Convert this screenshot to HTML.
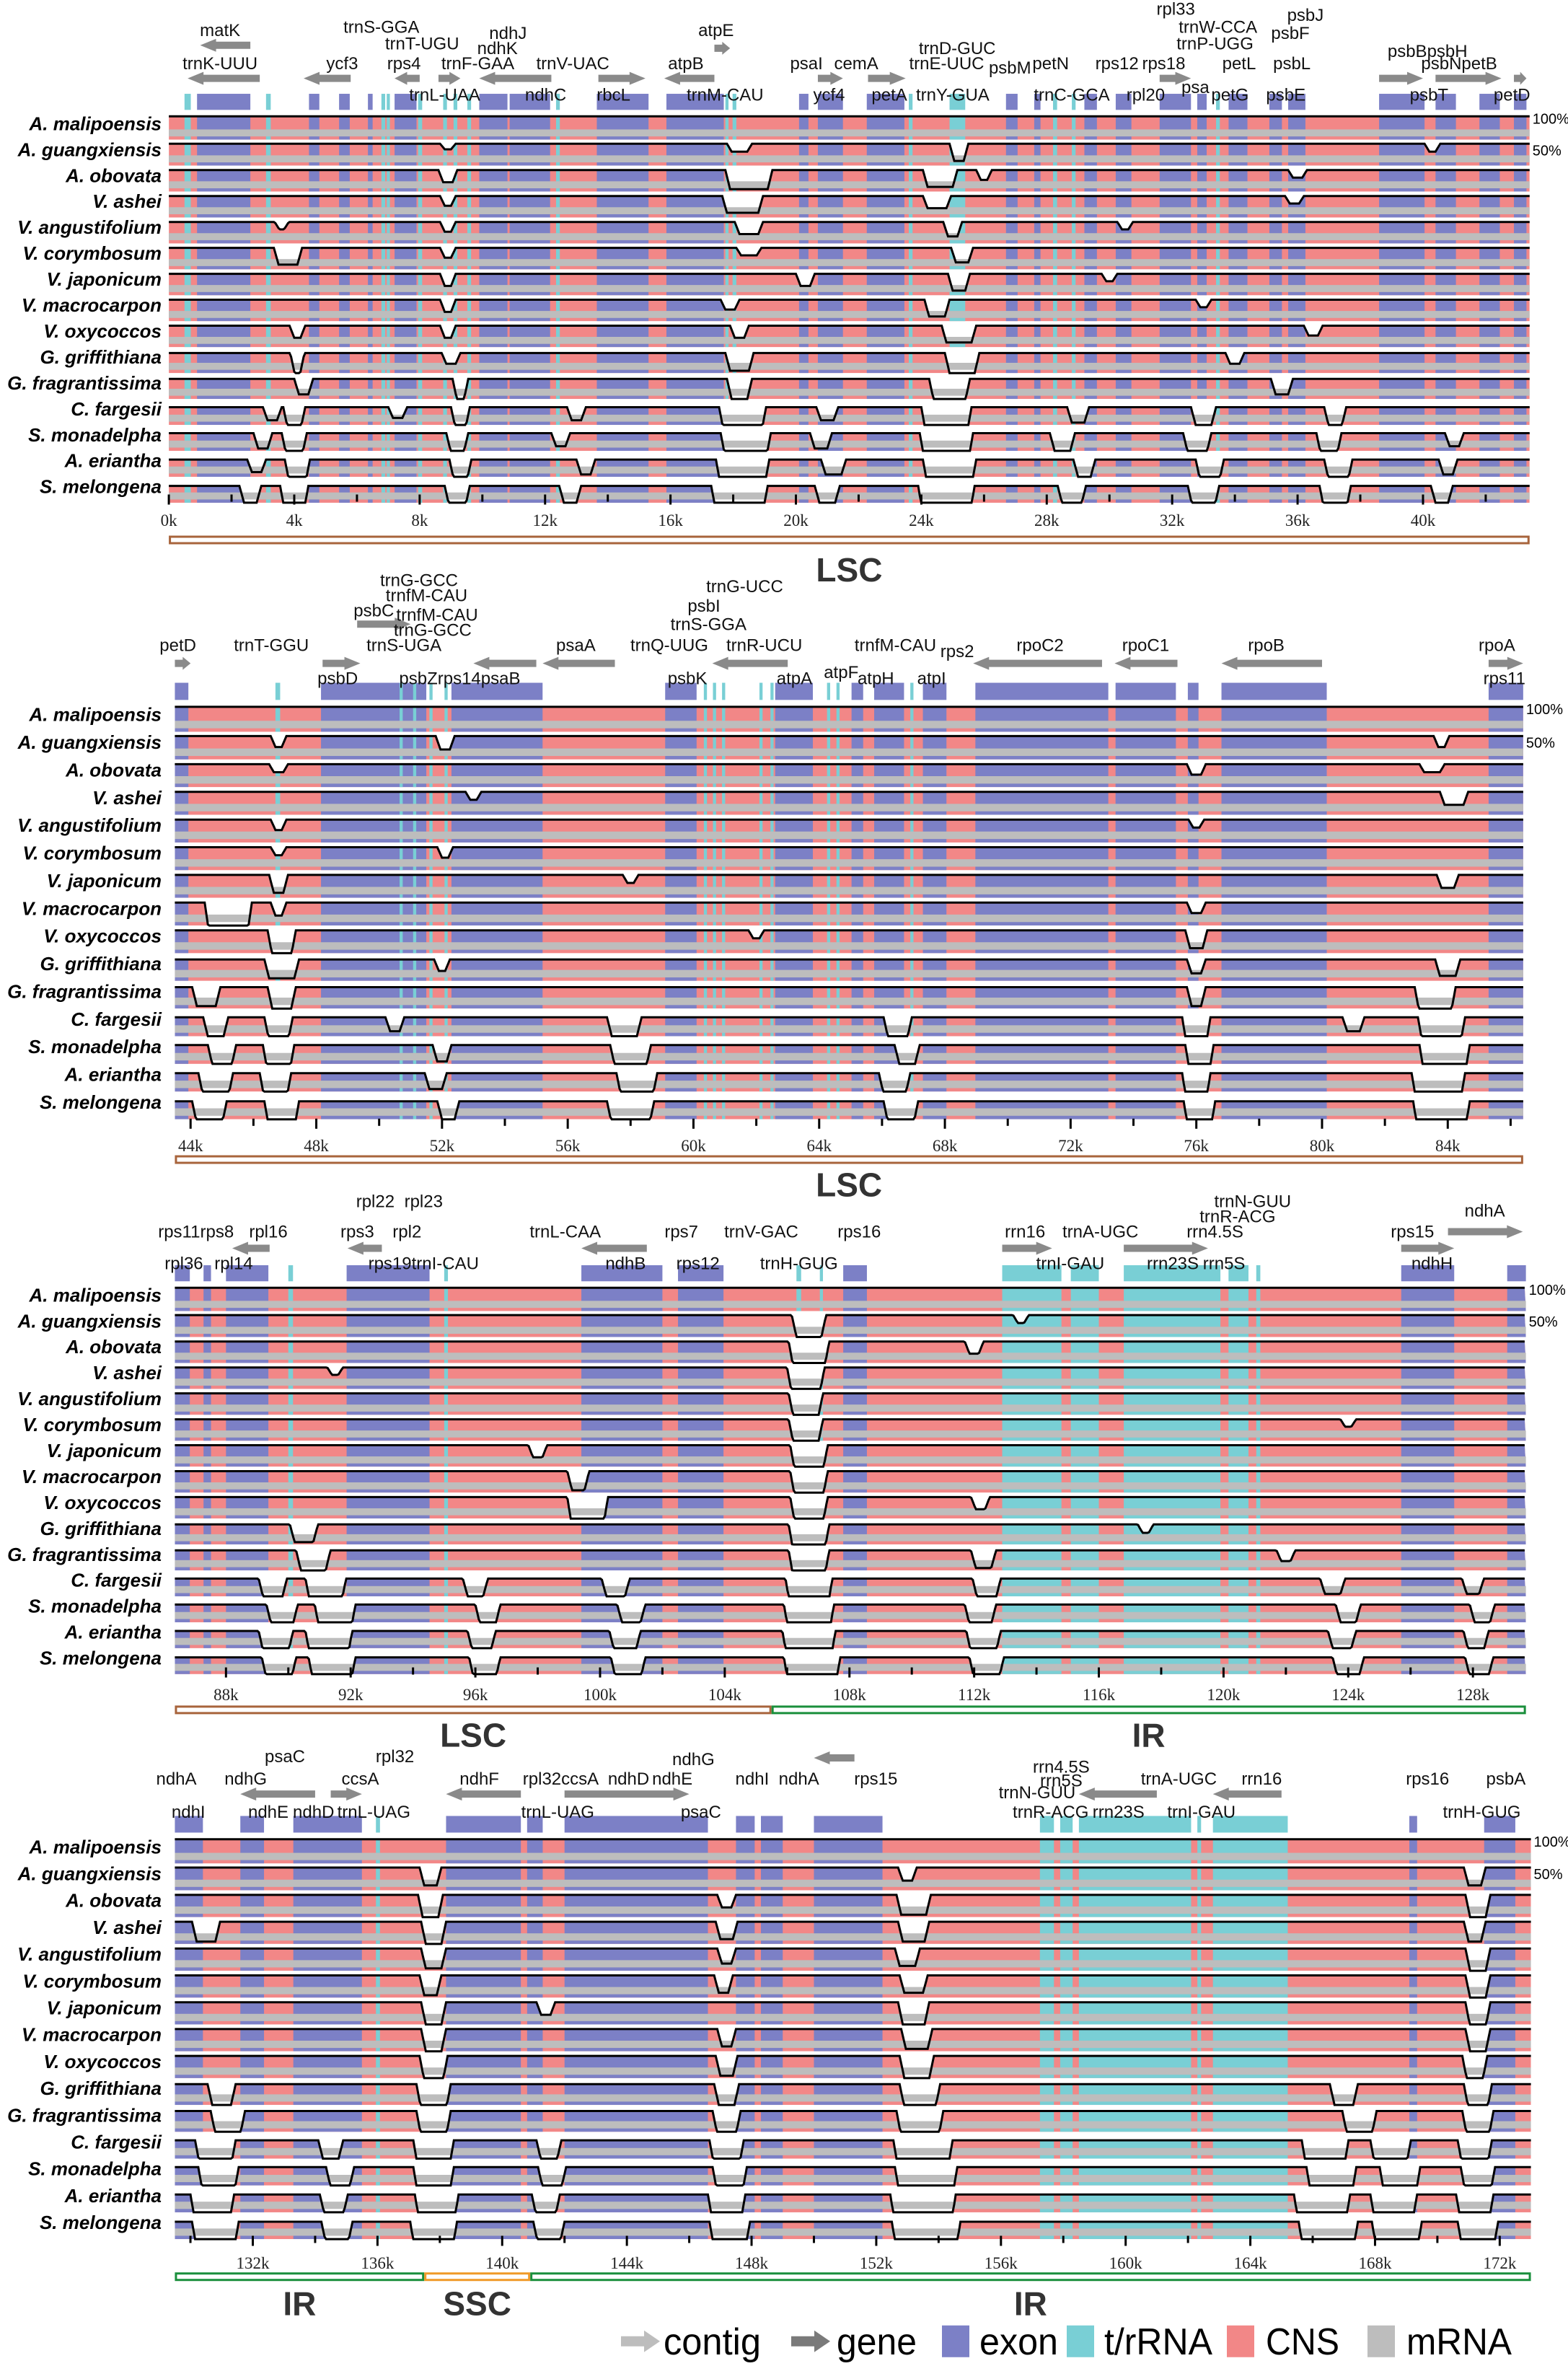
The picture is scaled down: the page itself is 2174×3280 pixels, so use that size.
<!DOCTYPE html>
<html><head><meta charset="utf-8">
<style>
html,body{margin:0;padding:0;background:#fff;}
svg{display:block;}
text{font-family:"Liberation Sans",sans-serif;}
</style></head>
<body>
<svg id="chart" xmlns="http://www.w3.org/2000/svg" width="2174" height="3280" viewBox="0 0 2174 3280"></svg>
<script>
const S = 2.09;
const species = ["A. malipoensis","A. guangxiensis","A. obovata","V. ashei","V. angustifolium","V. corymbosum","V. japonicum","V. macrocarpon","V. oxycoccos","G. griffithiana","G. fragrantissima","C. fargesii","S. monadelpha","A. eriantha","S. melongena"];
const baseIdentity = [1.0,0.97,0.96,0.96,0.96,0.96,0.96,0.96,0.96,0.93,0.93,0.88,0.88,0.87,0.86];
const panelStartK = [0,43.5,86.36,129.5];
const panelEndK = [43.4,86.4,129.7,173.0];
const colors = {exon:"#7c80c6",rna:"#79cfd5",cns:"#f28787",mrna:"#bdbdbd"};

const seg1 = [[0.5,0.7,"rna"],[0.9,2.6,"exon"],[3.1,3.25,"rna"],[4.47,4.8,"exon"],[5.43,5.77,"exon"],[6.35,6.5,"exon"],[6.78,6.9,"rna"],[6.95,7.05,"rna"],[7.2,7.9,"exon"],[7.95,8.08,"rna"],[8.75,8.87,"rna"],[9.08,9.2,"rna"],[9.52,9.64,"rna"],[9.9,10.8,"exon"],[10.87,12.16,"exon"],[12.35,12.47,"rna"],[13.65,15.3,"exon"],[15.87,17.7,"exon"],[17.75,17.85,"rna"],[17.98,18.1,"rna"],[20.1,20.4,"exon"],[20.7,21.5,"exon"],[22.26,23.46,"exon"],[23.6,23.72,"rna"],[24.9,25.4,"rna"],[26.7,27.07,"exon"],[27.6,27.8,"exon"],[28.2,28.33,"rna"],[28.8,28.92,"rna"],[29.2,29.6,"exon"],[30.2,30.7,"exon"],[31.6,32.6,"exon"],[32.8,33.1,"exon"],[33.4,33.52,"rna"],[33.8,34.4,"exon"],[35.1,35.5,"exon"],[35.7,36.25,"exon"],[38.6,40.05,"exon"],[40.4,41.05,"exon"],[41.8,42.45,"exon"],[42.9,43.3,"exon"]];
const seg2 = [[43.5,43.93,"exon"],[46.7,46.85,"rna"],[48.15,51.5,"exon"],[50.65,50.75,"rna"],[51.08,51.18,"rna"],[51.6,51.7,"rna"],[52.08,52.18,"rna"],[52.3,55.2,"exon"],[59.1,60.1,"exon"],[60.33,60.43,"rna"],[60.62,60.72,"rna"],[60.91,61.01,"rna"],[62.1,62.2,"rna"],[62.45,62.55,"rna"],[62.6,63.8,"exon"],[64.25,64.35,"rna"],[64.55,64.65,"rna"],[65.03,65.4,"exon"],[65.75,66.7,"exon"],[66.9,67.0,"rna"],[67.3,68.05,"exon"],[68.97,73.2,"exon"],[73.43,75.35,"exon"],[75.73,76.07,"exon"],[76.8,80.15,"exon"],[85.3,86.4,"exon"]];
const seg3 = [[86.36,86.84,"exon"],[87.28,87.52,"exon"],[88.0,89.36,"exon"],[90.0,90.15,"rna"],[91.87,94.53,"exon"],[95.0,95.12,"rna"],[99.4,102.0,"exon"],[102.5,103.96,"exon"],[106.3,106.45,"rna"],[107.05,107.15,"rna"],[107.8,108.56,"exon"],[112.9,114.8,"rna"],[115.1,116.0,"rna"],[116.8,119.9,"rna"],[120.16,120.8,"rna"],[121.05,121.18,"rna"],[125.7,127.4,"exon"],[129.1,129.7,"exon"]];
const seg4 = [[129.5,130.4,"exon"],[131.6,132.36,"exon"],[133.3,135.5,"exon"],[135.95,136.08,"rna"],[138.2,140.6,"exon"],[140.8,141.3,"exon"],[142.0,146.6,"exon"],[147.5,148.1,"exon"],[148.3,149.0,"exon"],[150.0,152.2,"exon"],[157.25,157.7,"rna"],[157.9,158.3,"rna"],[158.5,162.1,"rna"],[162.3,162.42,"rna"],[162.8,165.2,"rna"],[169.1,169.35,"exon"],[171.5,172.5,"exon"]];

const dips1 = [[],
[[8.9,0.2,0.85],[18.2,0.5,0.8],[25.2,0.3,0.6],[40.3,0.2,0.8]],
[[8.9,0.3,0.7],[18.5,1.2,0.55],[24.6,0.8,0.6],[26,0.2,0.75],[36,0.3,0.8]],
[[8.9,0.2,0.75],[18.3,1.0,0.6],[24.5,0.6,0.7],[35.9,0.3,0.8]],
[[3.6,0.15,0.8],[8.9,0.2,0.75],[18.5,0.6,0.7],[25.0,0.3,0.65],[30.5,0.2,0.8]],
[[3.8,0.6,0.6],[8.9,0.2,0.75],[18.5,0.5,0.8],[25.3,0.4,0.65]],
[[8.9,0.2,0.7],[20.3,0.3,0.7],[25.2,0.4,0.6],[30,0.2,0.8]],
[[8.9,0.2,0.7],[17.9,0.3,0.75],[24.5,0.5,0.6],[33,0.2,0.8]],
[[4.1,0.2,0.7],[8.9,0.2,0.7],[18.2,0.3,0.7],[25.2,0.8,0.6],[36.5,0.3,0.75]],
[[4.1,0.15,0.45],[9.0,0.3,0.7],[18.2,0.6,0.55],[25.3,0.8,0.5],[34,0.3,0.7]],
[[4.3,0.3,0.6],[9.3,0.2,0.45],[18.2,0.5,0.5],[24.9,1.0,0.45],[35.5,0.4,0.6]],
[[3.3,0.3,0.6],[4.0,0.4,0.4],[7.3,0.3,0.65],[9.3,0.3,0.4],[13,0.3,0.6],[18.3,1.2,0.35],[21,0.4,0.6],[24.8,1.3,0.3],[29,0.4,0.55],[33,0.5,0.5],[37.2,0.4,0.45]],
[[3.0,0.3,0.55],[4.0,0.5,0.4],[9.2,0.4,0.45],[12.5,0.3,0.6],[18.4,1.3,0.35],[20.8,0.4,0.55],[24.8,1.4,0.3],[28.5,0.5,0.5],[32.8,0.6,0.45],[37.0,0.5,0.4],[41,0.3,0.6]],
[[2.8,0.3,0.6],[4.1,0.5,0.35],[9.3,0.4,0.4],[13.3,0.3,0.55],[18.3,1.4,0.3],[21.2,0.5,0.55],[24.9,1.4,0.3],[29.2,0.4,0.5],[33.2,0.6,0.4],[37.3,0.6,0.4],[40.8,0.3,0.55]],
[[2.6,0.4,0.5],[4.0,0.6,0.3],[9.2,0.5,0.4],[12.8,0.4,0.5],[18.2,1.5,0.3],[21.0,0.5,0.5],[24.8,1.5,0.25],[28.8,0.6,0.45],[33.0,0.7,0.4],[37.2,0.7,0.35],[40.6,0.4,0.5]]];
const dips2 = [[],
[[46.8,0.2,0.75],[52.1,0.3,0.7],[83.8,0.2,0.75]],
[[46.8,0.3,0.8],[76.0,0.3,0.75],[83.5,0.5,0.8]],
[[53,0.2,0.8],[84.2,0.6,0.7]],
[[46.8,0.2,0.75],[76,0.2,0.8]],
[[46.8,0.2,0.8],[52.1,0.2,0.75]],
[[46.8,0.3,0.6],[58,0.2,0.8],[84,0.4,0.7]],
[[45.2,1.2,0.3],[46.8,0.2,0.7],[76,0.3,0.75]],
[[46.9,0.6,0.45],[62,0.2,0.8],[76,0.4,0.6]],
[[46.9,0.8,0.55],[52,0.2,0.7],[76,0.3,0.65],[84,0.5,0.6]],
[[44.5,0.6,0.55],[46.9,0.6,0.5],[76,0.3,0.55],[83.6,1.0,0.4]],
[[44.8,0.5,0.5],[46.8,0.6,0.4],[50.5,0.3,0.6],[57.8,0.8,0.5],[66.5,0.6,0.45],[76.0,0.6,0.3],[81,0.4,0.6],[83.8,1.2,0.35]],
[[45.0,0.6,0.45],[46.8,0.7,0.35],[52,0.3,0.55],[58,1.0,0.45],[66.8,0.5,0.5],[76.1,0.6,0.3],[83.9,1.3,0.3]],
[[44.8,0.8,0.4],[46.7,0.7,0.35],[51.8,0.4,0.55],[58.2,1.0,0.4],[66.4,0.7,0.45],[76.0,0.6,0.25],[83.7,1.4,0.3]],
[[44.6,0.8,0.4],[46.9,0.8,0.3],[52.2,0.4,0.5],[58.0,1.2,0.4],[66.6,0.8,0.4],[76.1,0.7,0.25],[83.8,1.5,0.25]]];
const dips3 = [[],
[[106.7,0.8,0.5],[113.5,0.2,0.8]],
[[106.7,1.0,0.4],[112.0,0.3,0.7]],
[[106.6,0.9,0.4],[91.5,0.2,0.8]],
[[106.6,0.8,0.45]],
[[106.6,0.8,0.45],[124,0.2,0.8]],
[[106.7,0.9,0.4],[98,0.3,0.7]],
[[99.3,0.4,0.55],[106.7,0.9,0.4]],
[[99.6,1.0,0.3],[106.7,0.9,0.4],[112.2,0.3,0.7]],
[[90.5,0.6,0.55],[106.7,1.0,0.35],[117.5,0.2,0.75]],
[[90.8,0.8,0.5],[106.7,1.0,0.35],[112.3,0.5,0.55],[122,0.3,0.7]],
[[89.5,0.6,0.45],[91.2,1.0,0.35],[96,0.5,0.5],[100.5,0.6,0.5],[106.7,1.2,0.25],[112.4,0.6,0.45],[123.5,0.5,0.55],[128,0.4,0.55]],
[[89.8,0.7,0.45],[91.5,1.0,0.3],[96.4,0.5,0.45],[101,0.6,0.5],[106.7,1.3,0.25],[112.2,0.7,0.45],[124,0.5,0.5],[128.3,0.5,0.5]],
[[89.6,0.8,0.4],[91.3,1.2,0.3],[96.2,0.6,0.45],[100.8,0.7,0.45],[106.7,1.4,0.25],[112.3,0.8,0.4],[123.8,0.6,0.5],[128.1,0.5,0.45]],
[[89.7,0.8,0.4],[91.4,1.2,0.3],[96.3,0.7,0.4],[100.9,0.8,0.4],[106.8,1.5,0.2],[112.4,0.8,0.4],[124,0.7,0.45],[128.2,0.6,0.45]]];
const dips4 = [[],
[[137.7,0.4,0.6],[153,0.3,0.7],[171.2,0.4,0.6]],
[[137.7,0.5,0.5],[147.2,0.3,0.7],[153.2,0.8,0.55],[171.3,0.5,0.5]],
[[130.5,0.6,0.55],[137.8,0.5,0.5],[147.2,0.4,0.6],[153.2,0.7,0.55],[171.2,0.4,0.55]],
[[137.8,0.5,0.55],[147.2,0.3,0.65],[153,0.5,0.6],[171.3,0.5,0.5]],
[[137.7,0.4,0.55],[147.1,0.3,0.6],[153.2,0.6,0.6],[171.3,0.5,0.5]],
[[137.8,0.5,0.5],[141.4,0.3,0.7],[153.2,0.7,0.5],[171.3,0.5,0.45]],
[[137.8,0.5,0.5],[147.2,0.3,0.6],[153.3,0.7,0.55],[171.3,0.5,0.5]],
[[137.8,0.6,0.45],[147.2,0.4,0.55],[153.3,0.8,0.5],[171.2,0.5,0.45]],
[[131,0.6,0.5],[137.8,0.8,0.4],[147.2,0.5,0.5],[153.4,1.0,0.45],[167,0.6,0.5],[171.3,0.6,0.4]],
[[131.2,0.8,0.45],[137.8,0.8,0.4],[147.2,0.6,0.45],[153.4,1.2,0.4],[167.5,0.8,0.45],[171.3,0.7,0.4]],
[[130.8,1.0,0.35],[134.5,0.5,0.5],[137.8,1.0,0.3],[141.5,0.5,0.45],[147.2,0.8,0.35],[153.5,1.6,0.3],[166.4,1.2,0.3],[168.5,1.0,0.35],[171.2,0.8,0.35]],
[[130.9,1.0,0.35],[134.8,0.6,0.45],[137.8,1.0,0.3],[141.6,0.6,0.45],[147.3,0.8,0.35],[153.6,1.7,0.3],[166.6,1.3,0.3],[168.8,1.0,0.3],[171.3,0.8,0.35]],
[[130.7,1.1,0.3],[134.6,0.6,0.45],[137.9,1.1,0.25],[141.4,0.6,0.4],[147.2,0.9,0.3],[153.5,1.8,0.25],[166.3,1.5,0.25],[168.6,1.2,0.3],[171.2,0.9,0.3]],
[[130.8,1.2,0.3],[134.7,0.7,0.4],[137.8,1.2,0.25],[141.5,0.7,0.4],[147.3,1.0,0.3],[153.6,1.9,0.25],[166.5,1.6,0.25],[168.7,1.3,0.25],[171.3,1.0,0.3]]];

const arrows1 = [[1.0,2.6,30,-1],[0.6,2.9,52,-1],[4.3,5.8,52,-1],[7.2,8.0,52,-1],[8.6,9.3,52,1],[9.9,12.2,52,-1],[13.7,15.2,52,1],[15.8,17.4,52,-1],[17.4,17.9,32,1],[20.7,21.5,52,1],[22.3,23.5,52,1],[31.6,32.6,52,1],[38.6,40.0,52,1],[40.4,42.5,52,1],[42.9,43.3,52,1]];
const arrows2 = [[43.5,44.0,440,1],[48.2,49.4,440,1],[49.3,51.0,414,1],[53.0,55.0,440,-1],[55.2,57.5,440,-1],[60.6,63.0,440,-1],[68.9,73.0,440,-1],[73.4,75.4,440,-1],[76.8,80.0,440,-1],[85.3,86.4,440,1]];
const arrows3 = [[88.2,89.4,828,-1],[91.9,93.0,828,-1],[99.4,101.5,828,-1],[112.9,114.5,828,1],[116.8,119.5,828,1],[125.7,127.4,828,1],[127.2,129.6,817,1]];
const arrows4 = [[131.6,134.0,1190,-1],[134.5,135.5,1190,1],[138.2,140.6,1190,-1],[142.0,146.0,1190,1],[150.0,151.3,1166,-1],[158.5,161.0,1190,-1],[162.8,165.0,1190,-1]];

const labels1 = [["matK",146,20],["trnK-UUU",146,42],["ycf3",227,42],["trnS-GGA",253,18],["trnT-UGU",280,29],["rps4",268,42],["ndhJ",337,22],["ndhK",330,32],["trnF-GAA",317,42],["trnV-UAC",380,42],["trnL-UAA",295,63],["ndhC",362,63],["rbcL",407,63],["atpB",455,42],["atpE",475,20],["trnM-CAU",481,63],["psaI",535,42],["cemA",568,42],["ycf4",550,63],["petA",590,63],["trnD-GUC",635,32],["trnE-UUC",628,42],["trnY-GUA",632,63],["psbM",670,45],["petN",697,42],["trnC-GCA",711,63],["rps12",741,42],["rps18",772,42],["rpl20",760,63],["rpl33",780,6],["trnW-CCA",808,18],["trnP-UGG",806,29],["petL",822,42],["psa",793,58],["petG",816,63],["psbJ",866,10],["psbF",856,22],["psbL",857,42],["psbE",853,63],["psbBpsbH",947,34],["psbNpetB",968,42],["psbT",948,63],["petD",1003,63]];
const labels2 = [["petD",118,428],["trnT-GGU",180,428],["psbC",248,405],["trnG-GCC",278,385],["trnfM-CAU",283,395],["trnfM-CAU",290,408],["trnG-GCC",287,418],["trnS-UGA",268,428],["psbD",224,450],["psbZrps14psaB",305,450],["psaA",382,428],["trnG-UCC",494,389],["psbI",467,402],["trnS-GGA",470,414],["trnQ-UUG",444,428],["trnR-UCU",507,428],["psbK",456,450],["atpA",527,450],["trnfM-CAU",594,428],["atpF",558,446],["atpH",581,450],["rps2",635,432],["atpI",618,450],["rpoC2",690,428],["rpoC1",760,428],["rpoB",840,428],["rpoA",993,428],["rps11",998,450]];
const labels3 = [["rps11rps8",130,817],["rpl36",122,838],["rpl14",155,838],["rpl16",178,817],["rpl22",249,797],["rpl23",281,797],["rps3",237,817],["rpl2",270,817],["rps19trnI-CAU",281,838],["trnL-CAA",375,817],["ndhB",415,838],["rps7",452,817],["rps12",463,838],["trnV-GAC",505,817],["trnH-GUG",530,838],["rps16",570,817],["rrn16",680,817],["trnA-UGC",730,817],["trnI-GAU",710,838],["trnN-GUU",831,797],["trnR-ACG",821,807],["rrn4.5S",806,817],["rrn23S",778,838],["rrn5S",812,838],["rps15",937,817],["ndhA",985,803],["ndhH",950,838]];
const labels4 = [["ndhA",117,1180],["ndhI",125,1202],["psaC",189,1165],["ndhG",163,1180],["ndhE",178,1202],["ndhD",208,1202],["rpl32",262,1165],["ccsA",239,1180],["trnL-UAG",248,1202],["ndhF",318,1180],["rpl32ccsA",372,1180],["trnL-UAG",370,1202],["ndhD",417,1180],["ndhG",460,1167],["ndhE",446,1180],["psaC",465,1202],["ndhI",499,1180],["ndhA",530,1180],["rps15",581,1180],["rrn4.5S",704,1172],["rrn5S",704,1181],["trnN-GUU",688,1189],["trnR-ACG",697,1202],["rrn23S",742,1202],["trnA-UGC",782,1180],["rrn16",837,1180],["trnI-GAU",797,1202],["rps16",947,1180],["psbA",999,1180],["trnH-GUG",983,1202]];

const regions1 = [[0,43.4,"LSC"]];
const regions2 = [[43.5,86.4,"LSC"]];
const regions3 = [[86.36,105.5,"LSC"],[105.5,129.7,"IR"]];
const regions4 = [[129.5,137.5,"IR"],[137.5,140.9,"SSC"],[140.9,173.0,"IR"]];

const segs=[seg1,seg2,seg3,seg4], dipsAll=[dips1,dips2,dips3,dips4], arrowsAll=[arrows1,arrows2,arrows3,arrows4], labelsAll=[labels1,labels2,labels3,labels4], regionsAll=[regions1,regions2,regions3,regions4];
const layout=[
 {x0:112,ppk:20.8,row0:82,pitch:17.2,tickY:328,axisY:342,barY:356,labY:378},
 {x0:116,ppk:20.85,row0:474,pitch:18.36,tickY:742,axisY:757,barY:767,labY:786},
 {x0:116,ppk:20.68,row0:859,pitch:17.2,tickY:1106,axisY:1121,barY:1132,labY:1151},
 {x0:116,ppk:20.68,row0:1225,pitch:17.8,tickY:1483,axisY:1498,barY:1508,labY:1528}];

const NS="http://www.w3.org/2000/svg";
const svg=document.getElementById("chart");
function mk(tag,attrs,parent){const e=document.createElementNS(NS,tag);for(const k in attrs)e.setAttribute(k,attrs[k]);(parent||svg).appendChild(e);return e;}
let clipId=0;

function identityAt(k,base,dl){let v=base;for(const d of dl){const h=d[1]/2;if(k>=d[0]-h&&k<=d[0]+h)v=Math.min(v,d[2]);else{const dist=Math.min(Math.abs(k-(d[0]-h)),Math.abs(k-(d[0]+h)));if(dist<0.15){const t=dist/0.15;v=Math.min(v,d[2]+(base-d[2])*t);}}}return v;}

for(let p=0;p<4;p++){
 const L=layout[p], k0=panelStartK[p], k1=panelEndK[p];
 const X=k=>(L.x0+(k-k0)*L.ppk)*S;
 const xa=X(k0), xb=X(k1);
 const g=mk("g",{});
 
 
 const c0=(L.row0)*S, P=L.pitch*S;
 const stripTop=c0-1.15*P, stripH=0.62*P;
 for(const s of segs[p]){
  const r=mk("rect",{x:X(s[0]),y:stripTop,width:Math.max(3,X(s[1])-X(s[0])),height:stripH,fill:colors[s[2]]},g);
  
  
 }
 for(const a of arrowsAll[p]){
  const y=a[2]*S, xl=X(a[0]), xr=X(a[1]), hh=9, hw=Math.min(22,(xr-xl)*0.5);
  let pts;
  if(a[3]>0)pts=[[xl,y-5],[xr-hw,y-5],[xr-hw,y-hh],[xr,y],[xr-hw,y+hh],[xr-hw,y+5],[xl,y+5]];
  else pts=[[xr,y-5],[xl+hw,y-5],[xl+hw,y-hh],[xl,y],[xl+hw,y+hh],[xl+hw,y+5],[xr,y+5]];
  const e=mk("polygon",{points:pts.map(q=>q.join(",")).join(" "),fill:"#8a8a8a"},g);
  
  
 }
 for(const l of labelsAll[p]){
  const t=mk("text",{x:l[1]*S,y:l[2]*S+8,"font-size":24,"text-anchor":"middle",fill:"#111"},g);
  t.textContent=l[0];
  
  
 }
 for(let i=0;i<species.length;i++){
  const c=(L.row0+L.pitch*i)*S, top=c-0.28*P, h=0.9*P;
  const lab=mk("text",{x:224,y:c+9,"font-size":26,"font-weight":"bold","font-style":"italic","text-anchor":"end",fill:"#000"},g);
  lab.textContent=species[i];
  
  
  const pts=[];
  for(let k=k0;k<=k1+0.001;k+=0.05){
   let v=identityAt(k,baseIdentity[i],dipsAll[p][i]);
   v=Math.max(0.5,Math.min(1,v));
   pts.push([X(k),top+(1-v)/0.5*h]);
  }
  const id="clip"+(clipId++);
  const cp=mk("clipPath",{id:id},g);
  mk("polygon",{points:pts.map(q=>q[0].toFixed(1)+","+q[1].toFixed(1)).join(" ")+" "+xb+","+(top+h)+" "+xa+","+(top+h)},cp);
  const fg=mk("g",{"clip-path":"url(#"+id+")"},g);
  const bg=mk("rect",{x:xa,y:top,width:xb-xa,height:h,fill:colors.cns},fg);
  
  
  for(const s of segs[p]){
   const r=mk("rect",{x:X(s[0]),y:top,width:Math.max(3,X(s[1])-X(s[0])),height:h,fill:colors[s[2]]},fg);
   
   
  }
  const band=mk("rect",{x:xa,y:top+0.56*h,width:xb-xa,height:0.3*h,fill:colors.mrna},g);
  
  
  const line=mk("polyline",{points:pts.map(q=>q[0].toFixed(1)+","+q[1].toFixed(1)).join(" "),fill:"none",stroke:"#000","stroke-width":3},g);
  
  
  if(i===0||i===1){
   const pct=mk("text",{x:xb+4,y:top+(i===0?10:18),"font-size":20,fill:"#000"},g);
   pct.textContent=i===0?"100%":"50%";
   
   
  }
 }
 for(let k=Math.ceil(k0/2)*2;k<=k1;k+=2){
  const x=X(k), major=k%4===0;
  mk("line",{x1:x,x2:x,y1:L.tickY*S,y2:L.tickY*S+(major?14:10),stroke:"#000","stroke-width":3},g);
  if(major){
   const t=mk("text",{x:x,y:L.axisY*S+14,"font-size":23,"text-anchor":"middle",fill:"#222",style:"font-family:'Liberation Serif',serif"},g);
   t.textContent=k+"k";
   
   
  }
 }
 for(const r of regionsAll[p]){
  const col=r[2]==="LSC"?"#a8643c":(r[2]==="SSC"?"#f09a28":"#1a8f3c");
  const bx=X(r[0]),bw=X(r[1])-X(r[0]);
  const b=mk("rect",{x:bx+1.5,y:L.barY*S,width:bw-3,height:9,fill:"#fff",stroke:col,"stroke-width":3},g);
  
  
  const t=mk("text",{x:bx+bw/2,y:L.labY*S+16,"font-size":46,"font-weight":"bold","text-anchor":"middle",fill:"#333"},g);
  t.textContent=r[2];
  
  
 }
}
const legend=mk("g",{});


const ly=1553*S;
function legArrow(x,col){mk("polygon",{points:`${x},${ly-7} ${x+32},${ly-7} ${x+32},${ly-15} ${x+54},${ly} ${x+32},${ly+15} ${x+32},${ly+7} ${x},${ly+7}`,fill:col},legend);}
function legText(x,w,s){const t=mk("text",{x:x,y:ly+18,"font-size":52,fill:"#000",textLength:w,lengthAdjust:"spacingAndGlyphs"},legend);t.textContent=s;}
function legBox(x,col){mk("rect",{x:x,y:ly-22,width:38,height:44,fill:col},legend);}
legArrow(861,"#bdbdbd");legText(920,135,"contig");
legArrow(1097,"#7a7a7a");legText(1160,111,"gene");
legBox(1306,colors.exon);legText(1358,109,"exon");
legBox(1479,colors.rna);legText(1531,150,"t/rRNA");
legBox(1701,colors.cns);legText(1755,102,"CNS");
legBox(1896,colors.mrna);legText(1950,146,"mRNA");
</script>
</body></html>
